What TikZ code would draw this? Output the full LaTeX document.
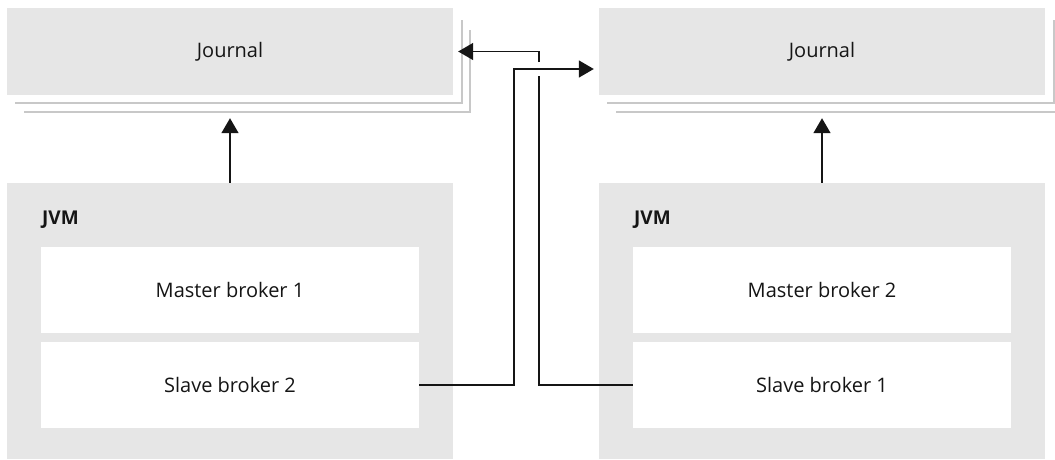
\documentclass[tikz,border=0pt]{standalone}
\usepackage{fontspec}
\setmainfont{Open Sans}
\usetikzlibrary{arrows.meta}
\definecolor{boxgray}{HTML}{E6E6E6}
\definecolor{shadowgray}{HTML}{C8C8C8}
\definecolor{ink}{HTML}{151515}
\tikzset{
  journal/.style={fill=boxgray, draw=none, minimum width=446pt, minimum height=87pt, inner sep=0pt, font=\fontsize{20}{22}\selectfont, text=ink},
  jvmbox/.style={fill=boxgray, draw=none, minimum width=446pt, minimum height=276pt, inner sep=0pt},
  brokerbox/.style={fill=white, draw=none, minimum width=378pt, minimum height=86pt, inner sep=0pt, font=\fontsize{20}{22}\selectfont, text=ink},
  jvmlabel/.style={anchor=west, inner sep=0pt, font=\bfseries\fontsize{19}{21}\selectfont, text=ink},
  shadowline/.style={draw=shadowgray, line width=1.6pt},
  conn/.style={draw=ink, line width=1.6pt},
  arr/.style={conn, -{Triangle[length=15pt,width=17pt]}}
}
\begin{document}
\begin{tikzpicture}[x=1pt,y=-1pt]
\useasboundingbox (0,0) rectangle (1055,459);
\clip (0,0) rectangle (1055,459);
% stacked journal outlines
\draw[shadowline] (15,103) -- (462,103) -- (462,20);
\draw[shadowline] (24,112) -- (470,112) -- (470,30);
\draw[shadowline] (607,103) -- (1054,103) -- (1054,20);
\draw[shadowline] (616,112) -- (1062,112) -- (1062,30);
% journals
\node[journal] (jl) at (230,51.5) {Journal};
\node[journal] (jr) at (822,51.5) {Journal};
% JVMs
\node[jvmbox] (jvml) at (230,321) {};
\node[jvmbox] (jvmr) at (822,321) {};
\node[jvmlabel] (lblL) at (42,220) {JVM};
\node[jvmlabel] (lblR) at (634,220) {JVM};
% brokers
\node[brokerbox] (m1) at (230,290) {Master broker 1};
\node[brokerbox] (s2) at (230,385) {Slave broker 2};
\node[brokerbox] (m2) at (822,290) {Master broker 2};
\node[brokerbox] (s1) at (822,385) {Slave broker 1};
% vertical arrows to journals
\draw[arr] (jvml.north) -- ([yshift=-23pt]jl.south);
\draw[arr] (jvmr.north) -- ([yshift=-23pt]jr.south);
% cross connections
\coordinate (c1) at (514,69);
\coordinate (c2) at (539,76);
\coordinate (c3) at (539,62);
\draw[arr, shorten >=5pt] (s2.east) -| (c1) -- (c1 -| jr.west);
\draw[conn] (s1.west) -| (c2);
\draw[arr, shorten >=5pt] (c3) |- (jl.east);
\end{tikzpicture}
\end{document}
